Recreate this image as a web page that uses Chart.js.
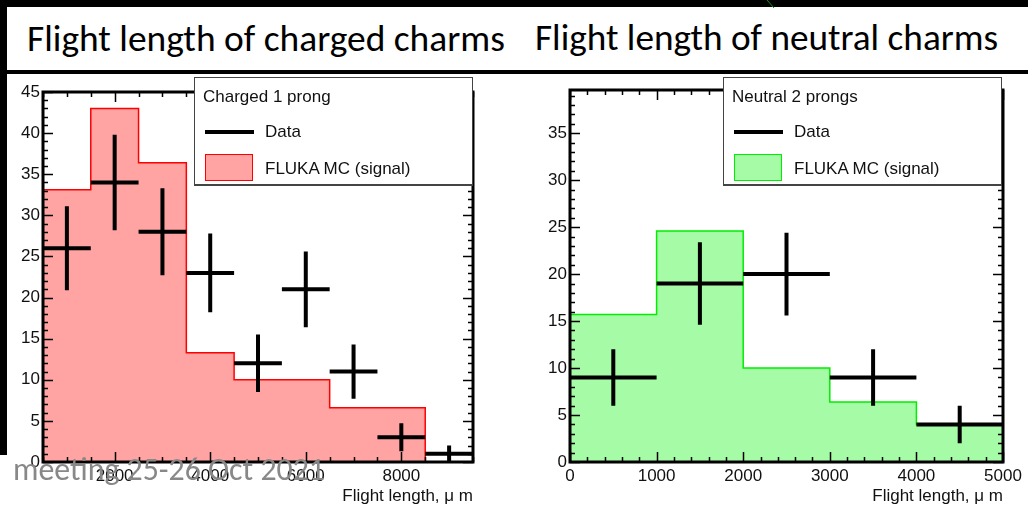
<!DOCTYPE html>
<html>
<head>
<meta charset="utf-8">
<script src="https://cdn.jsdelivr.net/npm/chart.js@4.4.1/dist/chart.umd.min.js"></script>
<style>
  html, body { margin: 0; padding: 0; background: #fff; }
  body { position: relative; width: 1028px; height: 512px; overflow: hidden; font-family: 'Liberation Sans', Arial, sans-serif; }
  .blk { position: absolute; background: #000; z-index: 5; }
  .slide-title { position: absolute; top: 16px; font-family: Carlito, Lato, 'Open Sans', sans-serif; font-weight: 400; font-size: 32px; line-height: 44px; color: #000; white-space: nowrap; }
  .plot { position: absolute; top: 74px; height: 438px; }
  .legend { position: absolute; top: 77px; width: 277px; height: 106px; background: #fff; border: 1px solid #444; box-shadow: 0 1px 0 #444; z-index: 3; color: #111; font-size: 17px; }
  .legend div { position: absolute; white-space: nowrap; line-height: 20px; }
  .legend .line { height: 4px; width: 49px; background: #000; }
  .legend .box { width: 46px; height: 25px; }
  .footer { position: absolute; z-index: 6; color: #888; font-family: Carlito, Lato, 'Open Sans', sans-serif; font-size: 24px; line-height: 30px; white-space: nowrap; }
</style>
</head>
<body>
<div class="blk" style="left:0;top:0;width:1028px;height:7px"></div>
<div class="blk" style="left:0;top:0;width:7px;height:455px"></div>
<div class="blk" style="left:0;top:70px;width:1028px;height:4px"></div>
<svg style="position:absolute;left:764px;top:0;z-index:6" width="12" height="9"><line x1="3" y1="0" x2="10" y2="8" stroke="#1a8f1a" stroke-width="1"/></svg>

<div class="slide-title" id="t1" style="left:27px">Flight length of charged charms</div>
<div class="slide-title" id="t2" style="left:535px">Flight length of neutral charms</div>

<div class="plot" style="left:0;width:520px"><canvas id="chg"></canvas></div>
<div class="plot" style="left:520px;width:508px"><canvas id="neu"></canvas></div>

<div class="legend" style="left:194px">
  <div style="left:8px;top:9px">Charged 1 prong</div>
  <div class="line" style="left:10px;top:52px"></div>
  <div style="left:70px;top:44px">Data</div>
  <div class="box" style="left:10px;top:76px;background:#ffa3a3;border:1.5px solid #ff0000"></div>
  <div style="left:70px;top:81px">FLUKA MC (signal)</div>
</div>
<div class="legend" style="left:723px">
  <div style="left:8px;top:9px">Neutral 2 prongs</div>
  <div class="line" style="left:10px;top:52px"></div>
  <div style="left:70px;top:44px">Data</div>
  <div class="box" style="left:10px;top:76px;background:#a6fba6;border:1.5px solid #00ee00"></div>
  <div style="left:70px;top:81px">FLUKA MC (signal)</div>
</div>

<div class="footer" id="foot" style="left:13px;top:455px">meeting 25-26 Oct 2021</div>
<div class="footer" style="right:1028px;top:455px">of</div>

<script>
// charged charms, 1 prong
var chgBinEdges = [500, 1500, 2500, 3500, 4500, 5500, 6500, 7500, 8500, 9500];
var chgMC = [33.1, 43.0, 36.4, 13.3, 10.0, 10.0, 6.6, 6.6, 0];
var chgDataX = [1000, 2000, 3000, 4000, 5000, 6000, 7000, 8000, 9000];
var chgDataY = [26, 34, 28, 23, 12, 21, 11, 3, 1];
var chgDataErr = [5.1, 5.8, 5.3, 4.8, 3.5, 4.6, 3.3, 1.7, 1.0];
var chgXTicks = [2000, 4000, 6000, 8000];
var chgYTicks = [0, 5, 10, 15, 20, 25, 30, 35, 40, 45];

// neutral charms, 2 prongs
var neuBinEdges = [0, 1000, 2000, 3000, 4000, 5000];
var neuMC = [15.7, 24.6, 10.0, 6.4, 4.0];
var neuDataX = [500, 1500, 2500, 3500, 4500];
var neuDataY = [9, 19, 20, 9, 4];
var neuDataErr = [3.0, 4.4, 4.4, 3.0, 2.0];
var neuXTicks = [0, 1000, 2000, 3000, 4000, 5000];
var neuYTicks = [0, 5, 10, 15, 20, 25, 30, 35];

Chart.defaults.font.family = "'Liberation Sans', Arial, sans-serif";
Chart.defaults.font.size = 17;
Chart.defaults.color = '#111';

function fitWidth(el, target) {
  var w = el.getBoundingClientRect().width;
  var fs = parseFloat(getComputedStyle(el).fontSize);
  el.style.fontSize = (fs * target / w).toFixed(2) + 'px';
}
fitWidth(document.getElementById('t1'), 478);
fitWidth(document.getElementById('t2'), 463);
fitWidth(document.getElementById('foot'), 312);

// histogram outline: one point per bin edge, last edge repeats the last bin
function histPoints(edges, vals) {
  return edges.map(function (e, i) {
    return { x: e, y: vals[Math.min(i, vals.length - 1)] };
  });
}

// data crosses: bin-wide horizontal bar + vertical error bar, split by gaps
function crossPoints(edges, xs, ys, errs) {
  var pts = [];
  xs.forEach(function (x, i) {
    pts.push({ x: edges[i], y: ys[i] }, { x: edges[i + 1], y: ys[i] }, { x: x, y: null });
    pts.push({ x: x, y: ys[i] - errs[i] }, { x: x, y: ys[i] + errs[i] }, { x: x, y: null });
  });
  return pts;
}

function near(list, v) {
  return list.some(function (t) { return Math.abs(t - v) < 1e-6; });
}

// ROOT-like frame with ticks on all four sides, pointing inward
var rootFrame = {
  id: 'rootFrame',
  afterDatasetsDraw: function (chart, args, o) {
    var ctx = chart.ctx, a = chart.chartArea;
    var xs = chart.scales.x, ys = chart.scales.y;
    var v, px, len;
    ctx.save();
    ctx.strokeStyle = '#000';
    ctx.lineWidth = 1.5;
    ctx.beginPath();
    for (v = Math.ceil(xs.min / o.xMinor) * o.xMinor; v <= xs.max + 1e-6; v += o.xMinor) {
      px = Math.round(xs.getPixelForValue(v)) + 0.5;
      len = near(o.xMajor, v) ? 10 : 5;
      ctx.moveTo(px, a.bottom); ctx.lineTo(px, a.bottom - len);
      ctx.moveTo(px, a.top); ctx.lineTo(px, a.top + len);
    }
    for (v = Math.ceil(ys.min / o.yMinor) * o.yMinor; v <= ys.max + 1e-6; v += o.yMinor) {
      px = Math.round(ys.getPixelForValue(v)) + 0.5;
      len = near(o.yMajor, v) ? 10 : 5;
      ctx.moveTo(a.left, px); ctx.lineTo(a.left + len, px);
      ctx.moveTo(a.right, px); ctx.lineTo(a.right - len, px);
    }
    ctx.stroke();
    ctx.lineWidth = 3;
    ctx.strokeRect(a.left, a.top, a.right - a.left, a.bottom - a.top);
    ctx.restore();
  }
};

function makeChart(el, p) {
  return new Chart(el, {
    type: 'line',
    data: {
      datasets: [
        {
          label: 'Data',
          data: crossPoints(p.edges, p.dataX, p.dataY, p.err),
          borderColor: '#000',
          borderWidth: 4,
          pointRadius: 0,
          spanGaps: false,
          fill: false,
        },
        {
          label: 'FLUKA MC (signal)',
          data: histPoints(p.edges, p.mc),
          stepped: 'before',
          fill: 'origin',
          backgroundColor: p.fill,
          borderColor: p.line,
          borderWidth: 1.5,
          pointRadius: 0,
        },
      ],
    },
    options: {
      responsive: true,
      maintainAspectRatio: false,
      animation: false,
      events: [],
      layout: { padding: { left: 0, top: p.top, right: p.right, bottom: 0 } },
      plugins: {
        legend: { display: false },
        tooltip: { enabled: false },
        rootFrame: { xMajor: p.xTicks, xMinor: p.xMinor, yMajor: p.yTicks, yMinor: 1 },
      },
      scales: {
        x: {
          type: 'linear',
          min: p.xMin,
          max: p.xMax,
          grid: { display: false, drawTicks: false },
          border: { display: false },
          ticks: {
            autoSkip: false,
            maxRotation: 0,
            padding: 4,
            callback: function (v) { return String(v); },
          },
          afterBuildTicks: function (s) {
            s.ticks = p.xTicks.map(function (v) { return { value: v }; });
          },
          afterFit: function (s) { s.height = 50; },
          title: {
            display: true,
            text: 'Flight length, \u03bc m',
            align: 'end',
            padding: { top: 0, bottom: 5 },
          },
        },
        y: {
          min: 0,
          max: p.yMax,
          grid: { display: false, drawTicks: false },
          border: { display: false },
          ticks: {
            padding: 3,
            callback: function (v) { return String(v); },
          },
          afterBuildTicks: function (s) {
            s.ticks = p.yTicks.map(function (v) { return { value: v }; });
          },
          afterFit: function (s) { s.width = p.left; },
        },
      },
    },
    plugins: [rootFrame],
  });
}

makeChart(document.getElementById('chg'), {
  edges: chgBinEdges, mc: chgMC, dataX: chgDataX, dataY: chgDataY, err: chgDataErr,
  xTicks: chgXTicks, yTicks: chgYTicks, xMinor: 500,
  xMin: 500, xMax: 9500, yMax: 45,
  fill: '#ffa3a3', line: '#ff0000',
  left: 43, top: 18, right: 47,
});

makeChart(document.getElementById('neu'), {
  edges: neuBinEdges, mc: neuMC, dataX: neuDataX, dataY: neuDataY, err: neuDataErr,
  xTicks: neuXTicks, yTicks: neuYTicks, xMinor: 200,
  xMin: 0, xMax: 5000, yMax: 39.6,
  fill: '#a6fba6', line: '#00ee00',
  left: 50, top: 16, right: 25,
});
</script>
</body>
</html>
